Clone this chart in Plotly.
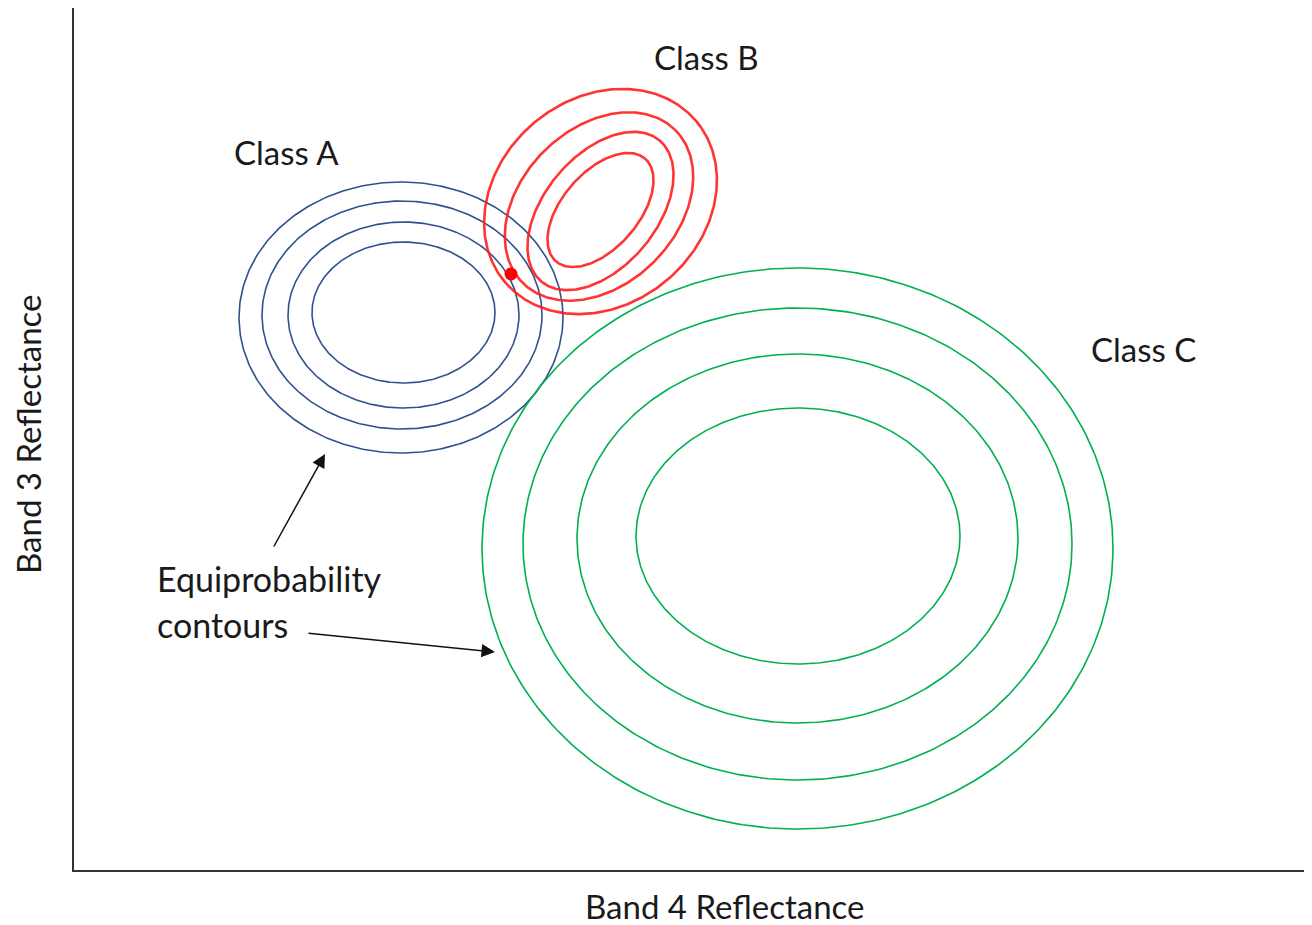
import numpy as np
import plotly.graph_objects as go

# axis units are picked so one unit is roughly one screen pixel
x_range = [0, 1234]
y_range = [0, 862]

# Class A contours (axis-aligned ellipses)
a_cx = [329.5, 329.5, 328, 327]
a_cy = [557.5, 555, 555, 552.5]
a_rx = [91.5, 115.5, 140, 162]
a_ry = [70.5, 93, 114, 135.5]

# Class B contours (tilted ellipses)
b_cx = [526.5, 526.5, 525, 526.5]
b_cy = [660, 659, 663.5, 668.5]
b_major = [68, 92, 108, 125]
b_minor = [38, 56, 78, 103]
b_angle = [49, 50, 45, 40]

# Class C contours
c_cx = [724, 723.5, 723.5, 723.5]
c_cy = [334, 331.5, 326, 321.5]
c_rx = [162, 220.5, 274.5, 315.5]
c_ry = [128, 184.5, 236, 280.5]

# pixel being classified
point_x = [437]
point_y = [596]

labels = ["Class A", "Class B", "Class C"]
label_x = [158, 578, 1015]
label_y = [718, 813, 521]

t = np.linspace(0, 2 * np.pi, 361)


def ellipse(cx, cy, a, b, angle=0):
    th = np.radians(angle)
    ex = a * np.cos(t)
    ey = b * np.sin(t)
    return cx + ex * np.cos(th) - ey * np.sin(th), cy + ex * np.sin(th) + ey * np.cos(th)


fig = go.Figure()

for cx, cy, rx, ry in zip(a_cx, a_cy, a_rx, a_ry):
    ex, ey = ellipse(cx, cy, rx, ry)
    fig.add_trace(go.Scatter(x=ex, y=ey, mode="lines", line=dict(color="#2F528F", width=1.6),
                             hoverinfo="skip"))

for cx, cy, rx, ry in zip(c_cx, c_cy, c_rx, c_ry):
    ex, ey = ellipse(cx, cy, rx, ry)
    fig.add_trace(go.Scatter(x=ex, y=ey, mode="lines", line=dict(color="#00B050", width=1.6),
                             hoverinfo="skip"))

for cx, cy, a, b, ang in zip(b_cx, b_cy, b_major, b_minor, b_angle):
    ex, ey = ellipse(cx, cy, a, b, ang)
    fig.add_trace(go.Scatter(x=ex, y=ey, mode="lines", line=dict(color="#FF1F1F", width=2.6),
                             opacity=0.9, hoverinfo="skip"))

fig.add_trace(go.Scatter(x=point_x, y=point_y, mode="markers",
                         marker=dict(color="#FF0000", size=13, line=dict(width=0))))

font = dict(family="Lato", size=33, color="#1a1a1a")

for txt, lx, ly in zip(labels, label_x, label_y):
    fig.add_annotation(x=lx, y=ly, text=txt, showarrow=False, xanchor="left", font=font)

fig.add_annotation(x=81, y=292, text="Equiprobability", showarrow=False, xanchor="left",
                   font=dict(font, size=34))
fig.add_annotation(x=81, y=246, text="contours", showarrow=False, xanchor="left",
                   font=dict(font, size=34))

# arrows pointing at the contours
arrow = dict(showarrow=True, axref="x", ayref="y", arrowhead=2, arrowsize=1.8,
             arrowwidth=1.5, arrowcolor="#111111", text="")
fig.add_annotation(x=251, y=416, ax=199, ay=322, **arrow)
fig.add_annotation(x=421, y=218, ax=233, ay=237, **arrow)

# axis titles
fig.add_annotation(x=650, y=-0.0418, yref="paper", xanchor="center", yanchor="middle",
                   text="Band 4 Reflectance", showarrow=False, font=font)
fig.add_annotation(x=-0.0373, xref="paper", y=436, xanchor="center", yanchor="middle",
                   text="Band 3 Reflectance", showarrow=False, textangle=-90, font=font)

axis = dict(showgrid=False, zeroline=False, showticklabels=False, ticks="",
            showline=True, linecolor="#333333", linewidth=1.5, mirror=False, fixedrange=True)

fig.update_xaxes(range=x_range, **axis)
fig.update_yaxes(range=y_range, **axis)

# the page body adds an 8px margin, so the figure is sized to fit inside it
fig.update_layout(
    width=1304,
    height=917,
    margin=dict(l=66, r=4, t=0, b=55),
    plot_bgcolor="white",
    paper_bgcolor="white",
    showlegend=False,
)

fig.write_html("out.html")
